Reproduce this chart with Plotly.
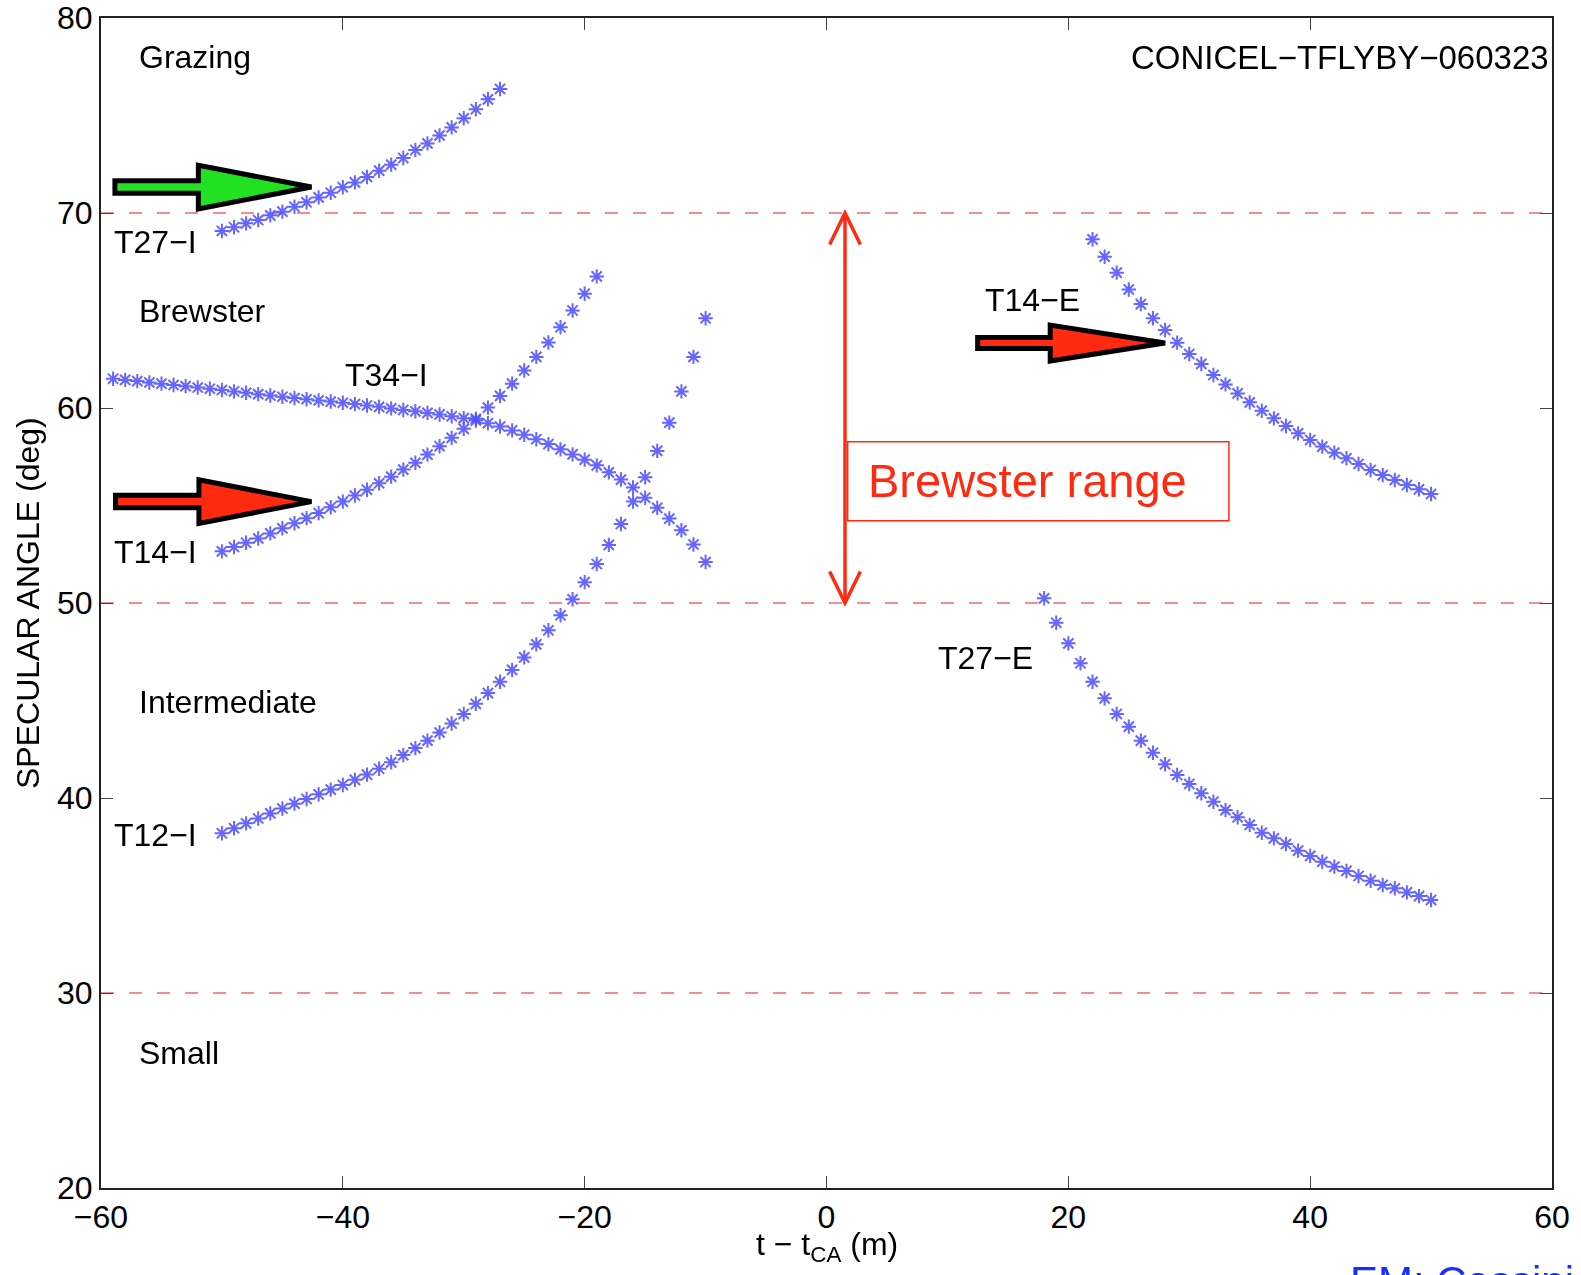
import plotly.graph_objects as go

# ---------------- data ----------------
t27i_t = [-50, -49, -48, -47, -46, -45, -44, -43, -42, -41, -40, -39, -38, -37, -36, -35,
          -34, -33, -32, -31, -30, -29, -28, -27]
t27i_y = [69.08, 69.27, 69.47, 69.64, 69.88, 70.07, 70.32, 70.55, 70.80, 71.04, 71.32, 71.57,
          71.85, 72.17, 72.48, 72.82, 73.23, 73.57, 73.98, 74.39, 74.86, 75.32, 75.83, 76.36]

t14i_t = [-50, -49, -48, -47, -46, -45, -44, -43, -42, -41, -40, -39, -38, -37, -36, -35,
          -34, -33, -32, -31, -30, -29, -28, -27, -26, -25, -24, -23, -22, -21, -20, -19]
t14i_y = [52.65, 52.87, 53.09, 53.31, 53.57, 53.83, 54.09, 54.35, 54.61, 54.91, 55.20, 55.51,
          55.81, 56.14, 56.48, 56.84, 57.19, 57.61, 58.04, 58.47, 58.93, 59.45, 60.02, 60.62,
          61.25, 61.92, 62.62, 63.36, 64.14, 65.00, 65.86, 66.75]

t12i_t = [-50, -49, -48, -47, -46, -45, -44, -43, -42, -41, -40, -39, -38, -37, -36, -35,
          -34, -33, -32, -31, -30, -29, -28, -27, -26, -25, -24, -23, -22, -21, -20, -19,
          -18, -17, -16, -15, -14, -13, -12, -11, -10]
t12i_y = [38.19, 38.45, 38.70, 38.95, 39.21, 39.46, 39.71, 39.95, 40.19, 40.43, 40.67, 40.93,
          41.20, 41.50, 41.83, 42.20, 42.56, 42.94, 43.36, 43.82, 44.31, 44.83, 45.38, 45.96,
          46.57, 47.21, 47.88, 48.60, 49.37, 50.19, 51.07, 52.00, 52.98, 54.05, 55.20, 56.45,
          57.80, 59.25, 60.85, 62.62, 64.60]

t34i_t = [-59, -58, -57, -56, -55, -54, -53, -52, -51, -50, -49, -48, -47, -46, -45, -44,
          -43, -42, -41, -40, -39, -38, -37, -36, -35, -34, -33, -32, -31, -30, -29, -28,
          -27, -26, -25, -24, -23, -22, -21, -20, -19, -18, -17, -16, -15, -14, -13, -12,
          -11, -10]
t34i_y = [61.50, 61.44, 61.38, 61.31, 61.25, 61.18, 61.12, 61.05, 60.99, 60.92, 60.85, 60.78,
          60.71, 60.64, 60.58, 60.51, 60.45, 60.39, 60.33, 60.27, 60.20, 60.13, 60.06, 59.98,
          59.90, 59.83, 59.75, 59.67, 59.58, 59.48, 59.36, 59.22, 59.05, 58.85, 58.63, 58.40,
          58.15, 57.88, 57.62, 57.35, 57.06, 56.70, 56.33, 55.92, 55.40, 54.88, 54.33, 53.73,
          53.00, 52.10]

t14e_t = [22, 23, 24, 25, 26, 27, 28, 29, 30, 31, 32, 33, 34, 35, 36, 37, 38, 39, 40, 41,
          42, 43, 44, 45, 46, 47, 48, 49, 50]
t14e_y = [68.65, 67.76, 66.94, 66.08, 65.33, 64.60, 64.00, 63.35, 62.77, 62.26, 61.69, 61.21,
          60.75, 60.29, 59.86, 59.47, 59.08, 58.70, 58.36, 58.02, 57.71, 57.42, 57.13, 56.82,
          56.56, 56.31, 56.05, 55.83, 55.59]

t27e_t = [18, 19, 20, 21, 22, 23, 24, 25, 26, 27, 28, 29, 30, 31, 32, 33, 34, 35, 36, 37,
          38, 39, 40, 41, 42, 43, 44, 45, 46, 47, 48, 49, 50]
t27e_y = [50.24, 48.99, 47.93, 46.91, 45.96, 45.11, 44.31, 43.66, 42.94, 42.32, 41.73, 41.18,
          40.72, 40.24, 39.81, 39.38, 39.01, 38.62, 38.22, 37.93, 37.64, 37.30, 37.03, 36.73,
          36.48, 36.26, 36.00, 35.76, 35.54, 35.37, 35.16, 34.97, 34.77]

boundaries = [70, 50, 30]
x_ticks = [-60, -40, -20, 0, 20, 40, 60]
y_ticks = [20, 30, 40, 50, 60, 70, 80]

# ---------------- style ----------------
FONT = "Liberation Sans, Arial, Helvetica, sans-serif"
STAR = "#4b4bff"
RED = "#ff2a10"
GREEN = "#22e022"
DASH = "rgba(240,90,100,0.7)"

fig = go.Figure()

for tx, ty in [(t27i_t, t27i_y), (t14i_t, t14i_y), (t12i_t, t12i_y),
               (t34i_t, t34i_y), (t14e_t, t14e_y), (t27e_t, t27e_y)]:
    fig.add_trace(go.Scatter(
        x=tx, y=ty, mode="markers",
        marker=dict(symbol="asterisk-open", size=12, color=STAR,
                    line=dict(color=STAR, width=2)),
        opacity=0.85, showlegend=False, hoverinfo="x+y"))

shapes = []
for b in boundaries:
    shapes.append(dict(type="line", xref="paper", yref="y", x0=0, x1=1, y0=b, y1=b,
                       line=dict(color=DASH, width=2, dash="13px,15px"), layer="below"))


def block_arrow(x_tail, x_base, x_tip, yc, sh, hh, fill):
    path = (f"M {x_tail},{yc - sh} L {x_base},{yc - sh} L {x_base},{yc - hh} "
            f"L {x_tip},{yc} L {x_base},{yc + hh} L {x_base},{yc + sh} "
            f"L {x_tail},{yc + sh} Z")
    return dict(type="path", xref="x", yref="y", path=path, fillcolor=fill,
                line=dict(color="black", width=5), layer="above")


shapes.append(block_arrow(-58.85, -51.95, -42.6, 71.33, 0.32, 1.12, GREEN))
shapes.append(block_arrow(-58.8, -51.9, -42.6, 55.2, 0.32, 1.12, RED))
shapes.append(block_arrow(12.5, 18.5, 28.0, 63.33, 0.28, 0.92, RED))

# Brewster range double arrow and box
ax = 1.53
shapes.append(dict(type="line", xref="x", yref="y", x0=ax, x1=ax, y0=50, y1=70,
                   line=dict(color=RED, width=3.5)))
shapes.append(dict(type="path", xref="x", yref="y",
                   path=f"M {ax - 1.27},{70 - 1.62} L {ax},{70} L {ax + 1.27},{70 - 1.62}",
                   line=dict(color=RED, width=3.5)))
shapes.append(dict(type="path", xref="x", yref="y",
                   path=f"M {ax - 1.27},{50 + 1.62} L {ax},{50} L {ax + 1.27},{50 + 1.62}",
                   line=dict(color=RED, width=3.5)))
shapes.append(dict(type="rect", xref="x", yref="y", x0=1.75, x1=33.28, y0=54.22, y1=58.27,
                   line=dict(color=RED, width=1.5)))

annotations = []


def label(text, x, y, xanchor="left", size=32, color="black"):
    annotations.append(dict(text=text, x=x, y=y, xref="x", yref="y", xanchor=xanchor,
                            yanchor="middle", showarrow=False,
                            font=dict(family=FONT, size=size, color=color)))


label("Grazing", -57.0, 78.0)
label("CONICEL\u2212TFLYBY\u2212060323", 59.9, 78.0, xanchor="right", size=33)
label("Brewster", -57.0, 65.0)
label("Intermediate", -57.0, 44.9)
label("Small", -57.0, 26.9)
label("T27\u2212I", -59.05, 68.5)
label("T14\u2212I", -59.05, 52.64)
label("T12\u2212I", -59.05, 38.1)
label("T34\u2212I", -36.42, 61.69, xanchor="center")
label("T14\u2212E", 17.03, 65.56, xanchor="center")
label("T27\u2212E", 13.11, 47.16, xanchor="center")
label("Brewster range", 3.3, 56.3, size=47, color=RED)

# axis titles
annotations.append(dict(text="t \u2212 t<sub>CA</sub> (m)", xref="paper", yref="paper",
                        x=0.5, y=-0.0504, xanchor="center", yanchor="middle",
                        showarrow=False, font=dict(family=FONT, size=32, color="black")))
annotations.append(dict(text="SPECULAR ANGLE (deg)", xref="paper", yref="paper",
                        x=-0.0503, y=0.5, xanchor="center", yanchor="middle", textangle=-90,
                        showarrow=False, font=dict(family=FONT, size=32, color="black")))
# cut-off footer text (also cut off at the bottom edge in the reference)
annotations.append(dict(text="EM: Cassini", xref="paper", yref="paper",
                        x=(1348 - 101) / 1451, y=(1188 - 1256) / 1170, xanchor="left",
                        yanchor="top", showarrow=False,
                        font=dict(family=FONT, size=42, color="#1a2cff")))

axis_common = dict(showgrid=False, zeroline=False, showline=True, linecolor="#222",
                   linewidth=2, mirror="ticks", ticks="inside", ticklen=12, tickwidth=1,
                   tickcolor="#444", tickfont=dict(family=FONT, size=32, color="black"))

fig.update_layout(
    width=1581, height=1275,
    margin=dict(l=101, r=29, t=18, b=87, autoexpand=False),
    paper_bgcolor="white", plot_bgcolor="white",
    xaxis=dict(range=[-60, 60], tickvals=x_ticks, ticklabelstandoff=0, **axis_common),
    yaxis=dict(range=[20, 80], tickvals=y_ticks, ticklabelstandoff=0, **axis_common),
    shapes=shapes, annotations=annotations, showlegend=False,
)

fig.write_html("out.html")
